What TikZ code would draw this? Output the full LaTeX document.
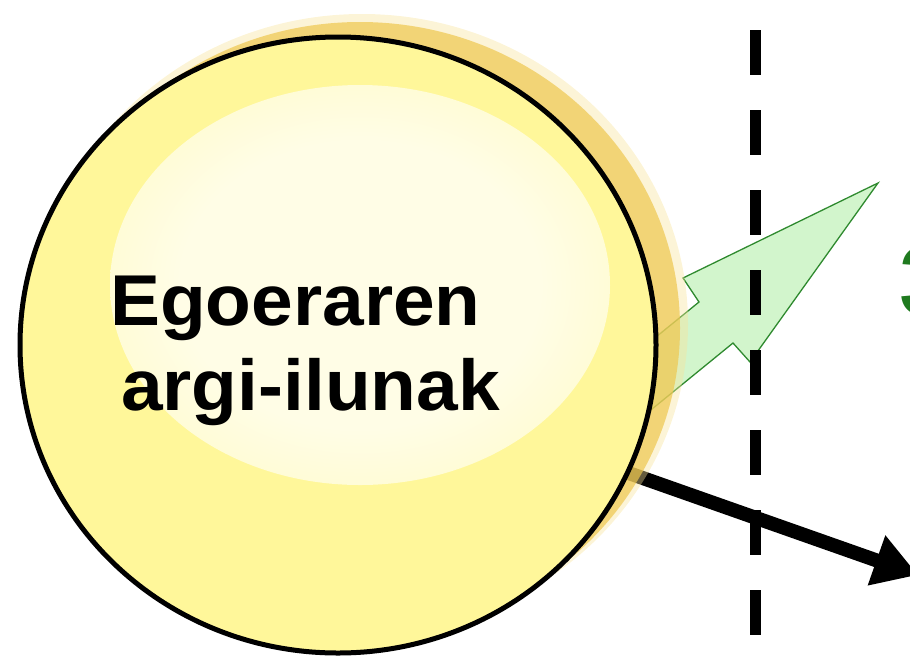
\documentclass[tikz,border=0pt]{standalone}
\usepackage{fontspec}
\setmainfont{Liberation Sans}
\usetikzlibrary{arrows.meta}
\definecolor{base}{HTML}{FFF79A}
\definecolor{hl}{HTML}{FFFDE6}
\definecolor{glow}{HTML}{EEC74E}
\definecolor{glowpale}{HTML}{F8E39A}
\definecolor{gfill}{HTML}{D2F5CC}
\definecolor{gline}{HTML}{2F8A2F}
\definecolor{gtext}{HTML}{1F7A1F}
\pgfdeclareradialshading{hlshade}{\pgfpoint{0bp}{0bp}}{color(0bp)=(hl); color(18bp)=(hl); color(34bp)=(hl!55!base); color(48bp)=(base); color(50bp)=(base)}
\tikzset{
  greenarrow/.style={fill=gfill, draw=gline, line width=1.3pt, line join=miter},
  blackarrow/.style={line width=14pt, -{Triangle[length=44pt,width=50pt]}},
  divider/.style={line width=11pt, dash pattern=on 45pt off 35pt},
  bigtext/.style={anchor=base west, inner sep=0pt, font=\fontsize{72}{84}\selectfont\bfseries}
}
\begin{document}
\begin{tikzpicture}[x=1pt,y=-1pt]
\useasboundingbox (0,0) rectangle (910,657);
\clip (0,0) rectangle (910,657);
% green arrow (behind the circle)
\coordinate (gA) at (640,350);
\coordinate (gB) at (699,302);
\coordinate (gC) at (683,278);
\coordinate (gtip) at (878,183);
\coordinate (gD) at (750,362);
\coordinate (gE) at (733,343);
\coordinate (gF) at (630,427);
\filldraw[greenarrow] (gA) -- (gB) -- (gC) -- (gtip) -- (gD) -- (gE) -- (gF) -- cycle;
% black arrow
\coordinate (bstart) at (620,470);
\coordinate (btip) at (918,575);
\draw[blackarrow] (bstart) -- (btip);
% glow behind the circle
\fill[glowpale, opacity=0.4] (362,324) ellipse [x radius=326pt, y radius=310pt];
\fill[glow, opacity=0.7] (360,328) ellipse [x radius=320pt, y radius=306pt];
% main circle
\fill[base] (338,345) ellipse [x radius=318pt, y radius=308pt];
\shade[shading=hlshade] (360,285) ellipse [x radius=250pt, y radius=200pt];
\draw[line width=5pt] (338,345) ellipse [x radius=318pt, y radius=308pt];
% dashed divider
\coordinate (dtop) at (755,30);
\coordinate (dbot) at (755,670);
\draw[divider] (dtop) -- (dbot);
% texts
\node[bigtext] (t1) at (110,325) {\scalebox{1.04}[1]{Egoeraren}};
\node[bigtext] (t2) at (121,410) {\scalebox{1.04}[1]{argi-ilunak}};
\node[anchor=base west, inner sep=0pt, text=gtext, font=\fontsize{100}{110}\selectfont\bfseries] (t3) at (899,315) {3};
\end{tikzpicture}
\end{document}
